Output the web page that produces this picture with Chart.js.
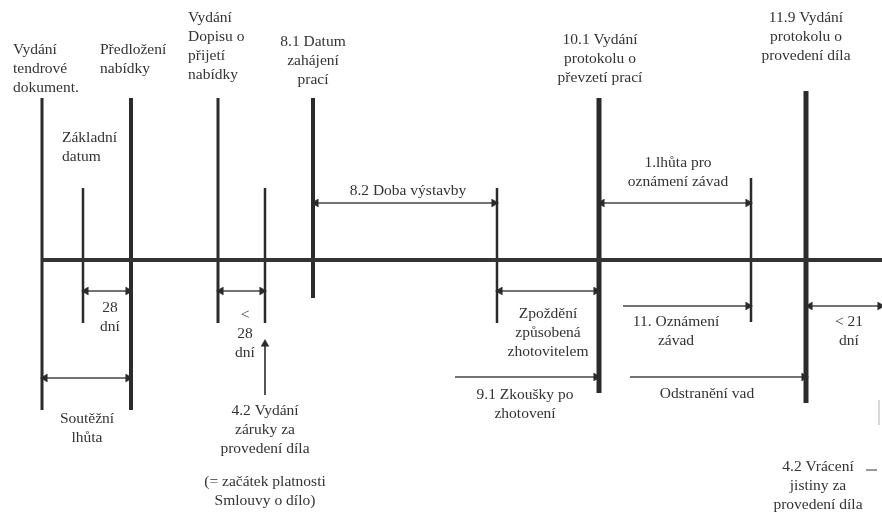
<!DOCTYPE html>
<html>
<head>
<meta charset="utf-8">
<script src="https://cdn.jsdelivr.net/npm/chart.js@4"></script>
<style>
html,body{margin:0;padding:0;background:#fff;}
#wrap{width:882px;height:514px;position:relative;}
</style>
</head>
<body>
<div id="wrap"><canvas id="c"></canvas></div>
<script>
// Timeline milestones (position along timeline, vertical extent of marker)
const milestoneX      = [42, 83, 131, 218, 265, 313, 497, 599, 751, 806];
const milestoneTop    = [98, 188, 98, 98, 188, 98, 188, 98, 178, 91];
const milestoneBottom = [410, 323, 410, 323, 323, 298, 323, 393, 322, 403];
const milestoneWeight = [3, 2.5, 4, 3, 2.5, 4, 2.5, 5, 2.5, 5];

// Main time axis
const axisFrom = 42, axisTo = 882, axisLevel = 260;

// Period spans (arrows)
const spanFrom  = [86, 221, 45, 316, 602, 500, 623, 455, 630, 810];
const spanTo    = [128, 262, 128, 494, 748, 596, 748, 596, 804, 880];
const spanLevel = [291, 291, 378, 203, 203, 291, 306, 377, 377, 306];
const spanBoth  = [true, true, true, true, true, true, false, false, false, true];

// Vertical pointer arrow (4.2 Vydání záruky)
const pointerX = 265, pointerFrom = 395, pointerTo = 344;

// Text annotations
const labelLines = [
  ["Vydání","tendrové","dokument."],
  ["Předložení","nabídky"],
  ["Vydání","Dopisu o","přijetí","nabídky"],
  ["8.1 Datum","zahájení","prací"],
  ["10.1 Vydání","protokolu o","převzetí prací"],
  ["11.9 Vydání","protokolu o","provedení díla"],
  ["Základní","datum"],
  ["28","dní"],
  ["<","28","dní"],
  ["Soutěžní","lhůta"],
  ["4.2 Vydání","záruky za","provedení díla"],
  ["(= začátek platnosti","Smlouvy o dílo)"],
  ["8.2 Doba výstavby"],
  ["1.lhůta pro","oznámení závad"],
  ["Zpoždění","způsobená","zhotovitelem"],
  ["11. Oznámení","závad"],
  ["< 21","dní"],
  ["9.1 Zkoušky po","zhotovení"],
  ["Odstranění vad"],
  ["4.2 Vrácení","jistiny za","provedení díla"]
];
const labelX     = [13, 100, 188, 313, 600, 806, 62, 110, 245, 87, 265, 265, 408, 678, 548, 676, 849, 525, 707, 818];
const labelY     = [50, 50, 18, 42, 40, 18, 138, 308, 315, 419, 411, 482, 191, 163, 314, 322, 322, 395, 394, 467];
const labelAlign = ['left','left','left','center','center','center','left','center','center','center','center','center','center','center','center','center','center','center','center','center'];
const lineGap = 19;

const INK = '#2b2b2b';
const datasets = [];

// axis
datasets.push({
  data: [{x: axisFrom, y: axisLevel}, {x: axisTo, y: axisLevel}],
  borderColor: '#333', borderWidth: 4, pointRadius: 0, showLine: true, borderCapStyle: 'butt'
});
// milestones
milestoneX.forEach((x, i) => {
  datasets.push({
    data: [{x: x, y: milestoneTop[i]}, {x: x, y: milestoneBottom[i]}],
    borderColor: INK, borderWidth: milestoneWeight[i], pointRadius: 0, showLine: true, borderCapStyle: 'butt'
  });
});
// spans
spanFrom.forEach((f, i) => {
  datasets.push({
    data: [{x: f, y: spanLevel[i]}, {x: spanTo[i], y: spanLevel[i]}],
    borderColor: '#444', borderWidth: 1.4, showLine: true,
    pointStyle: 'triangle',
    pointRotation: [-90, 90],
    pointRadius: spanBoth[i] ? [4.5, 4.5] : [0, 4.5],
    pointBackgroundColor: INK, pointBorderColor: INK, pointBorderWidth: 0.5
  });
});
// pointer arrow
datasets.push({
  data: [{x: pointerX, y: pointerFrom}, {x: pointerX, y: pointerTo}],
  borderColor: INK, borderWidth: 1.6, showLine: true,
  pointStyle: 'triangle', pointRotation: [0, 0], pointRadius: [0, 4.5],
  pointBackgroundColor: INK, pointBorderColor: INK, pointBorderWidth: 0.5
});
// faint marks at right edge
datasets.push({
  data: [{x: 879, y: 400}, {x: 879, y: 425}],
  borderColor: '#ccc', borderWidth: 1.5, pointRadius: 0, showLine: true
});
datasets.push({
  data: [{x: 866, y: 470}, {x: 877, y: 470}],
  borderColor: '#555', borderWidth: 1.2, pointRadius: 0, showLine: true
});

const textPlugin = {
  id: 'textLabels',
  afterDatasetsDraw(chart) {
    const ctx = chart.ctx;
    const sx = chart.scales.x, sy = chart.scales.y;
    ctx.save();
    ctx.fillStyle = '#333';
    ctx.font = '15.5px "Liberation Serif", "Times New Roman", serif';
    ctx.textBaseline = 'middle';
    labelLines.forEach((lines, i) => {
      ctx.textAlign = labelAlign[i];
      lines.forEach((t, j) => {
        ctx.fillText(t, sx.getPixelForValue(labelX[i]), sy.getPixelForValue(labelY[i] + j * lineGap));
      });
    });
    ctx.restore();
  }
};

new Chart(document.getElementById('c'), {
  type: 'scatter',
  data: { datasets },
  options: {
    responsive: true,
    maintainAspectRatio: false,
    animation: false,
    layout: { padding: 0, autoPadding: false },
    plugins: { legend: { display: false }, tooltip: { enabled: false } },
    elements: { line: { tension: 0 } },
    scales: {
      x: { type: 'linear', min: 0, max: 882, display: false },
      y: { type: 'linear', min: 0, max: 514, reverse: true, display: false }
    }
  },
  plugins: [textPlugin]
});
</script>
</body>
</html>
